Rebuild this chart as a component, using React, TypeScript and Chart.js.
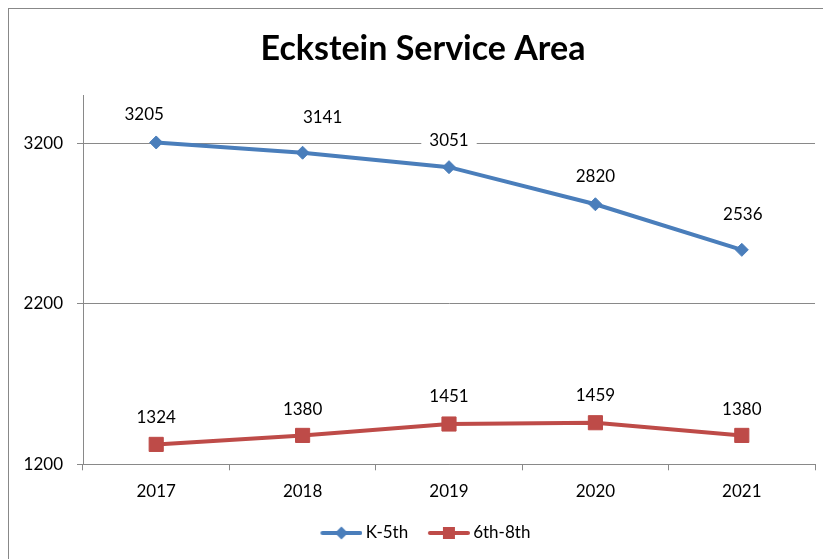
import React, { useEffect, useRef } from 'react';
import { Chart, registerables } from 'chart.js';

Chart.register(...registerables);

// ---- data ----
const years = ['2017', '2018', '2019', '2020', '2021'];
const k5Values = [3205, 3141, 3051, 2820, 2536];
const g68Values = [1324, 1380, 1451, 1459, 1380];
const yTickValues = [1200, 2200, 3200];
const yMin = 1200;
const yMax = 3500;

// ---- styling ----
const BLUE = '#4A7EBB';
const RED = '#BE4B48';
const GRID = '#898989';
const FONT = 'Lato';

// manual label nudges (px) as placed in the original
const k5LabelShift = [[-12, -29], [20, -36], [0, -28], [0, -28.5], [1, -36]];
const g68LabelShift = [[0, -28], [0, -27], [0, -28], [0, -28], [0, -27]];

function makeLegendIcon(color: string, kind: 'diamond' | 'square') {
  const c = document.createElement('canvas');
  c.width = 52;
  c.height = 16;
  const ctx = c.getContext('2d')!;
  ctx.strokeStyle = color;
  ctx.lineWidth = 4;
  ctx.lineCap = 'round';
  ctx.beginPath();
  ctx.moveTo(12, 8);
  ctx.lineTo(50, 8);
  ctx.stroke();
  ctx.fillStyle = color;
  if (kind === 'diamond') {
    ctx.beginPath();
    ctx.moveTo(31 - 6.5, 8);
    ctx.lineTo(31, 1.5);
    ctx.lineTo(31 + 6.5, 8);
    ctx.lineTo(31, 14.5);
    ctx.closePath();
    ctx.fill();
  } else {
    ctx.fillRect(31 - 6, 2, 12, 12);
  }
  return c;
}

const pointLabelPlugin = {
  id: 'pointLabels',
  afterDatasetsDraw(chart: any) {
    const ctx = chart.ctx;
    ctx.save();
    ctx.font = `17px ${FONT}`;
    ctx.textAlign = 'center';
    ctx.textBaseline = 'middle';
    chart.data.datasets.forEach((ds: any, di: number) => {
      const meta = chart.getDatasetMeta(di);
      const shifts = di === 0 ? k5LabelShift : g68LabelShift;
      meta.data.forEach((pt: any, i: number) => {
        const text = String(ds.data[i]);
        const x = pt.x + shifts[i][0];
        const y = pt.y + shifts[i][1];
        const w = ctx.measureText(text).width;
        ctx.fillStyle = '#ffffff';
        ctx.fillRect(x - w / 2 - 8, y - 10, w + 16, 20);
        ctx.fillStyle = '#000000';
        ctx.fillText(text, x, y + 1);
      });
    });
    ctx.restore();
  },
};

export default function App() {
  const canvasRef = useRef<HTMLCanvasElement | null>(null);

  useEffect(() => {
    if (!canvasRef.current) return;
    const icons = [makeLegendIcon(BLUE, 'diamond'), makeLegendIcon(RED, 'square')];
    const tickFont = { family: FONT, size: 17 };
    const chart = new Chart(canvasRef.current, {
      type: 'line',
      data: {
        labels: years,
        datasets: [
          {
            label: 'K-5th',
            data: k5Values,
            borderColor: BLUE,
            backgroundColor: BLUE,
            borderWidth: 4,
            pointStyle: 'rectRot',
            pointRadius: 6.5,
            pointBorderWidth: 1,
            pointBackgroundColor: BLUE,
            pointBorderColor: BLUE,
            tension: 0,
            yAxisID: 'y',
          },
          {
            label: '6th-8th',
            data: g68Values,
            borderColor: RED,
            backgroundColor: RED,
            borderWidth: 4,
            pointStyle: 'rect',
            pointRadius: 10,
            pointBorderWidth: 1,
            pointBackgroundColor: RED,
            pointBorderColor: RED,
            tension: 0,
            yAxisID: 'y',
          },
        ],
      },
      options: {
        animation: false,
        responsive: false,
        layout: { padding: { top: 0, left: 0, right: 0, bottom: 7.5 } },
        plugins: {
          title: {
            display: true,
            text: 'Eckstein Service Area',
            color: '#000000',
            font: { family: FONT, size: 34, weight: 'bold' },
            padding: { top: 20.1, bottom: 25.2 },
          },
          legend: {
            position: 'bottom',
            labels: {
              usePointStyle: true,
              pointStyleWidth: 41.5,
              padding: 15,
              color: '#000000',
              font: { family: FONT, size: 17 },
              generateLabels: (ch: any) => {
                const items = Chart.defaults.plugins.legend.labels.generateLabels(ch);
                return items.map((it: any, i: number) => ({ ...it, pointStyle: icons[i] }));
              },
            },
          },
          tooltip: { enabled: false },
        },
        scales: {
          x: {
            type: 'category',
            offset: true,
            grid: {
              offset: true,
              drawOnChartArea: false,
              drawTicks: true,
              tickLength: 6,
              color: GRID,
            },
            border: { display: true, color: GRID },
            ticks: { font: tickFont, color: '#000000', padding: 11.5, maxRotation: 0, autoSkip: false },
            afterFit: (s: any) => {
              s.height = 45.2;
            },
          },
          y: {
            type: 'linear',
            position: 'left',
            min: yMin,
            max: yMax,
            afterBuildTicks: (s: any) => {
              s.ticks = yTickValues.map((v) => ({ value: v }));
            },
            grid: { color: GRID, tickLength: 6 },
            border: { display: true, color: GRID },
            ticks: {
              font: tickFont,
              color: '#000000',
              padding: 14,
              callback: (v: any) => String(v),
            },
            afterFit: (s: any) => {
              s.width = 74;
            },
          },
          yRight: {
            type: 'linear',
            position: 'right',
            display: true,
            grid: { display: false, drawTicks: false },
            border: { display: false },
            ticks: { display: false },
            afterFit: (s: any) => {
              s.width = 22;
            },
          },
        },
      } as any,
      plugins: [pointLabelPlugin],
    });
    return () => chart.destroy();
  }, []);

  return (
    <div
      style={{
        position: 'absolute',
        left: 8,
        top: 8,
        width: 815,
        height: 551,
        boxSizing: 'border-box',
        borderLeft: '1px solid #888888',
        borderTop: '1px solid #888888',
        overflow: 'hidden',
        background: '#ffffff',
      }}
    >
      <canvas ref={canvasRef} width={828} height={550} style={{ display: 'block' }} />
    </div>
  );
}
